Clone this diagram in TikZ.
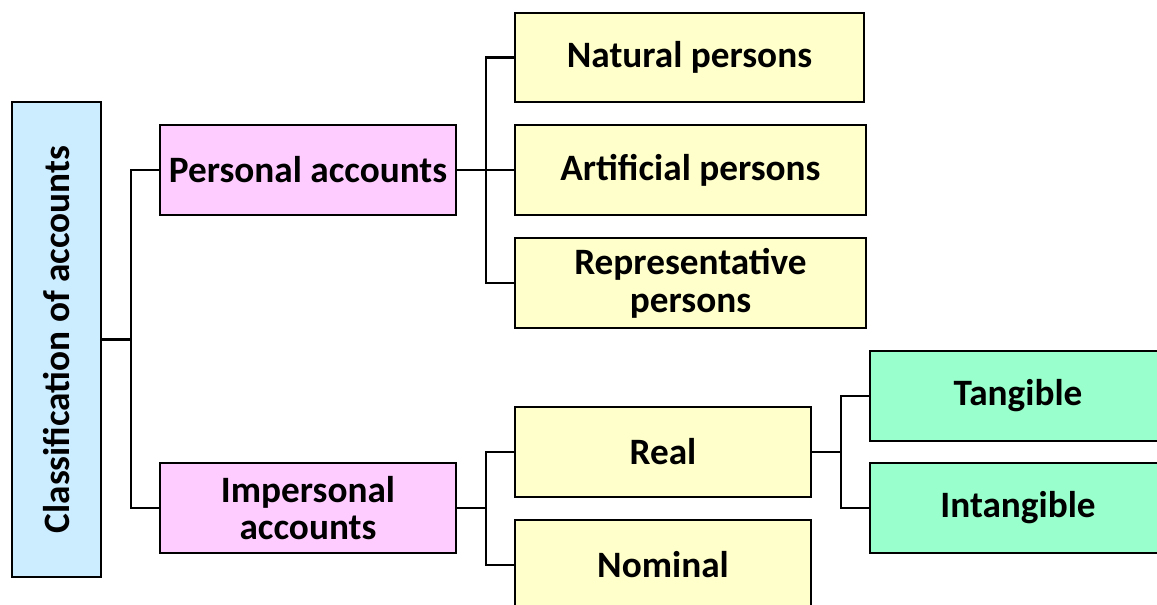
\documentclass[tikz,border=0pt]{standalone}
\usepackage{fontspec}
\setmainfont{Carlito}
\definecolor{clsblue}{HTML}{CCECFF}
\definecolor{perspink}{HTML}{FFCCFF}
\definecolor{subyellow}{HTML}{FFFFCC}
\definecolor{realgreen}{HTML}{99FFCC}
\begin{document}
\begin{tikzpicture}[x=0.02cm,y=-0.02cm,line width=1.2pt,
        box/.style={draw,align=center,minimum width=5.92cm,minimum height=1.8cm,inner sep=2pt,
            font=\fontsize{21.2}{21.5}\selectfont\bfseries}]
        \useasboundingbox (0,0) rectangle (1157,605);
        \clip (0,0) rectangle (1157,605);
        \node[box,fill=clsblue,rotate=90,minimum width=9.5cm,minimum height=1.78cm] (cls) at (56.5,339.5){Classification of accounts};
        \node[box,fill=perspink] (pers) at (308,170){Personal accounts};
        \node[box,fill=perspink] (imp) at (308,508){Impersonal\\accounts};
        \node[box,fill=subyellow,minimum width=6.98cm,minimum height=1.78cm] (nat) at (689.5,57.5){Natural persons};
        \node[box,fill=subyellow,minimum width=7.02cm] (art) at (690.5,170){Artificial persons};
        \node[box,fill=subyellow,minimum width=7.02cm] (rep) at (690.5,283){Representative\\persons};
        \node[box,fill=subyellow] (real) at (663,452){Real};
        \node[box,fill=subyellow] (nom) at (663,565){Nominal};
        \node[box,fill=realgreen] (tan) at (1018,396){Tangible};
        \node[box,fill=realgreen] (intan) at (1018,508){Intangible};
        % junctions
        \coordinate (j1) at ([xshift=0.58cm]cls.south);
        \coordinate (j2) at ([xshift=0.58cm]pers.east);
        \coordinate (j3) at ([xshift=0.58cm]imp.east);
        \coordinate (j4) at ([xshift=0.58cm]real.east);
        \draw (cls.south) -- (j1);
        \draw (pers.west) -| (j1) |- (imp.west);
        \draw (pers.east) -- (art.west);
        \draw (nat.west) -| (j2) |- (rep.west);
        \draw (imp.east) -- (j3);
        \draw (real.west) -| (j3) |- (nom.west);
        \draw (real.east) -- (j4);
        \draw (tan.west) -| (j4) |- (intan.west);
    \end{tikzpicture}
\end{document}
